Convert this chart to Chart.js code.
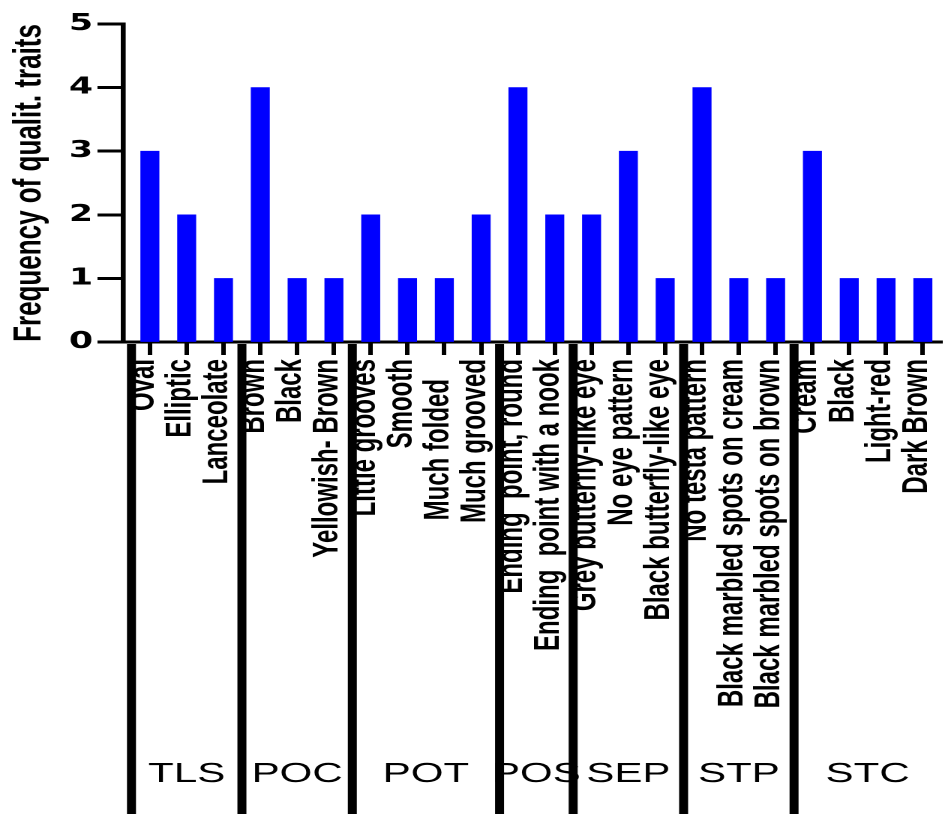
<!DOCTYPE html>
<html>
<head>
<meta charset="utf-8">
<script src="https://cdn.jsdelivr.net/npm/chart.js@4/dist/chart.umd.min.js"></script>
<style>
  html, body { margin: 0; padding: 0; background: #fff; overflow: hidden; }
  #wrap { width: 630px; height: 814px; transform: scaleX(1.5); transform-origin: 0 0; }
</style>
</head>
<body>
<div id="wrap"><canvas id="c" width="630" height="814"></canvas></div>
<script>
const categories = ['Oval', 'Elliptic', 'Lanceolate', 'Brown', 'Black', 'Yellowish- Brown',
  'Little grooves', 'Smooth', 'Much folded   ', 'Much grooved', 'Ending  point, round',
  'Ending  point with a nook', 'Grey butterfly-like eye', 'No eye pattern', 'Black butterfly-like eye',
  'No testa pattern', 'Black marbled spots on cream', 'Black marbled spots on brown',
  'Cream', 'Black', 'Light-red', 'Dark Brown'];
const values = [3, 2, 1, 4, 1, 1, 2, 1, 1, 2, 4, 2, 2, 3, 1, 4, 1, 1, 3, 1, 1, 1];
const groupNames = ['TLS', 'POC', 'POT', 'POS', 'SEP', 'STP', 'STC'];
const groupSizes = [3, 3, 4, 2, 3, 3, 4];
const yTicks = [0, 1, 2, 3, 4, 5];
const yTitle = 'Frequency of qualit. traits';

const points = values.map((v, i) => ({ x: i, y: v }));

const groupPlugin = {
  id: 'groups',
  afterDraw(chart) {
    const ctx = chart.ctx, xs = chart.scales.x;
    ctx.save();
    ctx.fillStyle = '#000';
    ctx.font = '28px "Liberation Sans", Arial, sans-serif';
    ctx.textAlign = 'center';
    ctx.textBaseline = 'alphabetic';
    let start = 0;
    groupNames.forEach((name, g) => {
      const p0 = xs.getPixelForValue(start - 0.5);
      const p1 = xs.getPixelForValue(start + groupSizes[g] - 0.5);
      ctx.fillRect(p0 - 3, 344, 6, chart.height - 344);
      ctx.fillText(name, (p0 + p1) / 2, 782);
      start += groupSizes[g];
    });
    ctx.restore();
  }
};

new Chart(document.getElementById('c'), {
  type: 'bar',
  data: {
    datasets: [{
      data: points,
      backgroundColor: '#0000ff',
      borderWidth: 0,
      barThickness: 12
    }]
  },
  options: {
    responsive: false,
    animation: false,
    devicePixelRatio: 2,
    layout: { padding: { top: 24, right: 2, bottom: 0, left: 0 } },
    plugins: { legend: { display: false }, tooltip: { enabled: false } },
    scales: {
      x: {
        type: 'linear',
        min: -0.73,
        max: 21.52,
        offset: false,
        afterBuildTicks: (s) => { s.ticks = categories.map((_, i) => ({ value: i })); },
        afterFit: (s) => { s.height = 472; s.paddingLeft = 0; s.paddingRight = 0; },
        grid: { display: true, offset: false, drawOnChartArea: false, drawTicks: true,
                tickLength: 13, tickWidth: 3, tickColor: '#000' },
        border: { display: true, color: '#000', width: 3 },
        ticks: {
          autoSkip: false,
          minRotation: 90,
          maxRotation: 90,
          padding: 4,
          labelOffset: -4,
          color: '#000',
          font: { family: '"Liberation Sans", Arial, sans-serif', weight: 'bold', size: 24 },
          callback: (v) => (Number.isInteger(v) && categories[v] !== undefined) ? categories[v] : ''
        }
      },
      y: {
        min: 0,
        max: 5,
        afterBuildTicks: (s) => { s.ticks = yTicks.map(v => ({ value: v })); },
        afterFit: (s) => { s.width = 82; s.paddingTop = 0; s.paddingBottom = 0; },
        grid: { display: true, drawOnChartArea: false, drawTicks: true,
                tickLength: 17, tickWidth: 3, tickColor: '#000' },
        border: { display: true, color: '#000', width: 3.3 },
        ticks: {
          padding: 3,
          color: '#000',
          font: { family: '"DejaVu Sans", sans-serif', weight: 'bold', size: 23 }
        },
        title: {
          display: true,
          text: yTitle,
          color: '#000',
          padding: { top: 4, bottom: 0 },
          font: { family: '"Liberation Sans", Arial, sans-serif', weight: 'bold', size: 26 }
        }
      }
    }
  },
  plugins: [groupPlugin]
});
</script>
</body>
</html>
